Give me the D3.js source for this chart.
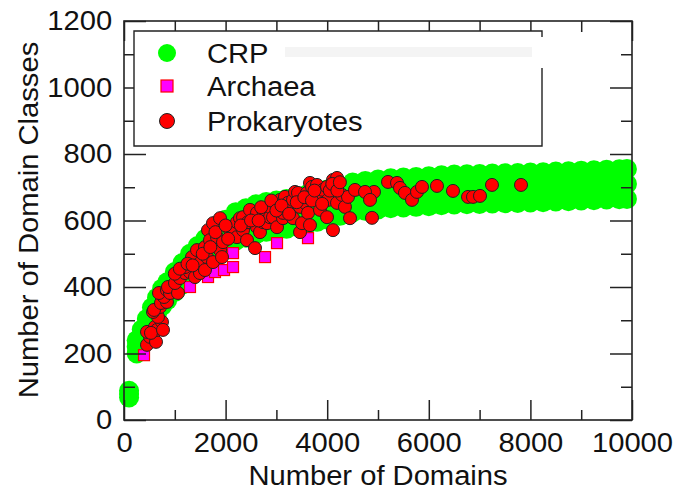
<!DOCTYPE html>
<html lang="en">
<head>
  <meta charset="UTF-8" />
  <title>Domain classes vs domains</title>
  <script src="https://d3js.org/d3.v7.min.js"></script>
  <style>
    body { margin: 0; background: #ffffff; }
    svg { display: block; font-family: 'Liberation Sans', Arial, sans-serif; }
    .tick line { stroke: #222; stroke-width: 1.5; }
    .tick text { font-size: 27px; fill: #111; }
  </style>
</head>
<body>
  <svg width="677" height="491"></svg>

  <script>
    // axis ticks
    const xMajor = [0, 2000, 4000, 6000, 8000, 10000];
    const xMinor = [1000, 3000, 5000, 7000, 9000];
    const yMajor = [0, 200, 400, 600, 800, 1000, 1200];
    const yMinor = [100, 300, 500, 700, 900, 1100];

    // CRP model band: x positions with upper / middle / lower rows of points
    const crpX = [100, 250, 350, 450, 550, 650, 750, 850, 1000, 1150, 1300, 1450, 1600, 1800, 2000, 2200,
      2400, 2600, 2800, 3000, 3200, 3400, 3600, 3800, 4000, 4250, 4500, 4750, 5000, 5250, 5500, 5750,
      6000, 6250, 6500, 6750, 7000, 7250, 7500, 7750, 8000, 8250, 8500, 8750, 9000, 9250, 9500, 9750, 9900];
    const crpUpper = [88, 240, 272, 304, 338, 368, 395, 414, 445, 472, 500, 523, 545, 576, 602, 625,
      637, 649, 656, 660, 665, 672, 678, 686, 693, 704, 714, 719, 723, 727, 729, 731,
      733, 736, 738, 739, 740, 741, 742, 743, 744, 745, 747, 748, 750, 751, 753, 754, 755];
    const crpMid = [78, 220, 250, 282, 316, 344, 369, 387, 415, 440, 466, 487, 508, 535, 560, 582,
      593, 604, 611, 615, 620, 627, 633, 641, 648, 659, 669, 674, 678, 682, 684, 686,
      688, 691, 693, 694, 695, 696, 697, 698, 699, 700, 702, 703, 705, 706, 708, 709, 710];
    const crpLower = [68, 200, 228, 260, 294, 320, 343, 360, 385, 408, 432, 451, 471, 494, 518, 539,
      548, 559, 566, 570, 575, 582, 588, 596, 603, 614, 624, 629, 633, 637, 639, 641,
      643, 646, 648, 649, 650, 651, 652, 653, 654, 655, 657, 658, 660, 661, 663, 664, 665];

    // Archaea genomes
    const archX = [394, 1299, 1654, 1791, 1969, 2146, 2146, 2776, 3012, 3622];
    const archY = [195, 400, 430, 445, 451, 460, 502, 490, 532, 547];

    // Prokaryote genomes
    const prokX = [453, 512, 453, 610, 630, 650, 531, 748, 768, 669, 571, 709, 591, 728, 846, 787, 689, 846, 906, 866, 1063,
      1004, 1102, 1201, 1299, 1398, 1201, 1339, 1437, 1496, 1496, 1594, 1594, 1634,
      1654, 1693, 1752, 1752, 1831, 1890, 1890, 1929, 1949, 2087, 2146, 2224, 2224, 2283, 2343, 2343, 2421, 2441, 2480,
      2579, 2618, 2618, 2677, 2736, 2736, 2815, 2874, 2874, 2933, 3012, 3071, 3130, 3130, 3169, 3209, 3228, 3327, 3327,
      3366, 3425, 3465, 3504, 3465,
      3563, 3602, 3622, 3661, 3661, 3701, 3799, 3819, 3858, 3917, 3996, 3996, 4016, 4114, 4114, 4193, 4193, 4193,
      4291, 4350, 4409, 4449, 4547,
      4882, 4921, 4744, 4843, 5197, 5374, 5433, 5531, 5669, 5768, 5866, 6161, 6476, 6772, 6870, 7008, 7244, 7815,
      1000, 1100, 1250, 1350, 1550, 1700, 1800, 2000, 2050, 2300, 2500, 2650, 2700, 2900, 3000, 3100, 3250, 3400,
      3550, 3700, 3750, 3900, 4050, 4100, 4200, 4250];
    const prokY = [226, 250, 265, 280, 235, 271, 262, 295, 271, 310, 325, 340, 331, 352, 355, 370, 382, 391, 382, 400, 382,
      412, 427, 442, 445, 430, 460, 490, 511, 472, 442, 451, 520, 490,
      571, 541, 592, 475, 550, 607, 511, 490, 535, 571, 580, 595, 550, 607, 571, 610, 541, 595, 632,
      517, 580, 623, 565, 595, 632, 592, 610, 641, 610, 580, 662, 607, 623, 671, 641, 653, 607, 662,
      686, 683, 565, 592, 641,
      653, 683, 623, 586, 713, 701, 707, 671, 632, 692, 610, 701, 662, 571, 722, 728, 701, 653,
      677, 641, 671, 607, 692,
      608, 686, 686, 662, 716, 713, 698, 683, 662, 686, 701, 704, 689, 671, 671, 674, 707, 707,
      440, 455, 470, 465, 500, 520, 565, 585, 545, 585, 600, 600, 640, 660, 630, 645, 620, 655,
      670, 660, 690, 650, 690, 710, 690, 715];

    const legendItems = ["CRP", "Archaea", "Prokaryotes"];

    const svg = d3.select("svg");
    const x = d3.scaleLinear().domain([0, 10000]).range([124, 632]);
    const y = d3.scaleLinear().domain([0, 1200]).range([420, 21]);
    const stretch = "scale(1.08,1)"; // the source font is a little wider than Liberation Sans

    // ---- data ----
    const crp = [];
    crpX.forEach((v, i) => {
      crp.push([v, crpUpper[i]], [v, crpMid[i]], [v, crpLower[i]]);
    });
    svg.append("g").selectAll("circle")
      .data(crp)
      .join("circle")
      .attr("cx", d => x(d[0]))
      .attr("cy", d => y(d[1]))
      .attr("r", 10)
      .attr("fill", "#00ff00");

    const sq = 11;
    svg.append("g").selectAll("rect")
      .data(archX.map((v, i) => [v, archY[i]]))
      .join("rect")
      .attr("x", d => x(d[0]) - sq / 2)
      .attr("y", d => y(d[1]) - sq / 2)
      .attr("width", sq).attr("height", sq)
      .attr("fill", "#ff00ff")
      .attr("stroke", "#ff0000")
      .attr("stroke-width", 1.2);

    svg.append("g").selectAll("circle")
      .data(prokX.map((v, i) => [v, prokY[i]]))
      .join("circle")
      .attr("cx", d => x(d[0]))
      .attr("cy", d => y(d[1]))
      .attr("r", 6.5)
      .attr("fill", "#ff0000")
      .attr("stroke", "#222")
      .attr("stroke-width", 1);

    // ---- axes ----
    const fmt = d3.format("d");
    const axB = svg.append("g").attr("transform", "translate(0,420)");
    axB.call(d3.axisBottom(x).tickValues(xMajor).tickSize(-20).tickPadding(13).tickFormat(fmt));
    axB.append("g").call(d3.axisBottom(x).tickValues(xMinor).tickSize(-10).tickFormat(""));

    const axL = svg.append("g").attr("transform", "translate(124,0)");
    axL.call(d3.axisLeft(y).tickValues(yMajor).tickSize(-22).tickPadding(11).tickFormat(fmt));
    axL.append("g").call(d3.axisLeft(y).tickValues(yMinor).tickSize(-11).tickFormat(""));

    const axT = svg.append("g").attr("transform", "translate(0,21)");
    axT.call(d3.axisTop(x).tickValues(xMajor).tickSize(-20).tickFormat(""));
    axT.append("g").call(d3.axisTop(x).tickValues(xMinor).tickSize(-11).tickFormat(""));

    const axR = svg.append("g").attr("transform", "translate(632,0)");
    axR.call(d3.axisRight(y).tickValues(yMajor).tickSize(-22).tickFormat(""));
    axR.append("g").call(d3.axisRight(y).tickValues(yMinor).tickSize(-11).tickFormat(""));

    svg.selectAll(".domain").remove();
    svg.selectAll("g[font-family]").attr("font-family", null).attr("font-size", null);
    svg.selectAll(".tick text").attr("transform", stretch);

    svg.append("rect")
      .attr("x", 124).attr("y", 21)
      .attr("width", 508).attr("height", 399)
      .attr("fill", "none")
      .attr("stroke", "#222")
      .attr("stroke-width", 1.6);

    // axis titles
    svg.append("text")
      .attr("transform", "translate(378,485) " + stretch)
      .attr("text-anchor", "middle")
      .attr("font-size", 27)
      .attr("fill", "#111")
      .text("Number of Domains");

    svg.append("text")
      .attr("transform", "translate(38,220) rotate(-90) " + stretch)
      .attr("text-anchor", "middle")
      .attr("font-size", 27)
      .attr("fill", "#111")
      .text("Number of Domain Classes");

    // ---- legend ----
    const lg = svg.append("g");
    lg.append("rect")
      .attr("x", 134).attr("y", 31)
      .attr("width", 408).attr("height", 115)
      .attr("fill", "#ffffff");
    lg.append("path")
      .attr("d", "M542,37 V31 H134 V146 H542 V68")
      .attr("fill", "none")
      .attr("stroke", "#222")
      .attr("stroke-width", 1.4);
    lg.append("rect")
      .attr("x", 285).attr("y", 47)
      .attr("width", 247).attr("height", 10)
      .attr("fill", "#f4f4f4");

    const rowY = [53, 86, 121];
    lg.append("circle").attr("cx", 167).attr("cy", rowY[0]).attr("r", 9).attr("fill", "#00ff00");
    lg.append("rect").attr("x", 161).attr("y", rowY[1] - 6).attr("width", 12).attr("height", 12)
      .attr("fill", "#ff00ff").attr("stroke", "#ff0000").attr("stroke-width", 1.2);
    lg.append("circle").attr("cx", 167).attr("cy", rowY[2]).attr("r", 7.5)
      .attr("fill", "#ff0000").attr("stroke", "#222").attr("stroke-width", 1);

    lg.selectAll("text.lab")
      .data(legendItems)
      .join("text")
      .attr("class", "lab")
      .attr("transform", (d, i) => `translate(207,${rowY[i] + 10}) ${stretch}`)
      .attr("font-size", 27)
      .attr("fill", "#111")
      .text(d => d);
  </script>
</body>
</html>
